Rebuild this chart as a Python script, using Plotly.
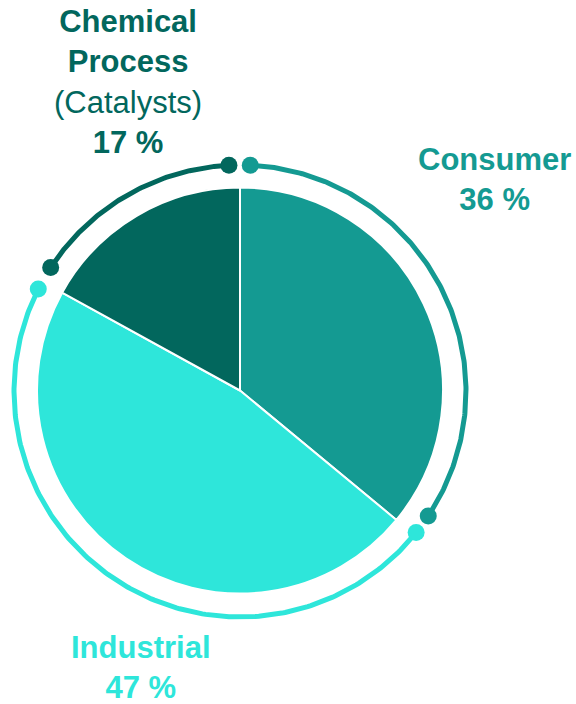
import numpy as np
import plotly.graph_objects as go

# Market share by application segment
segments = ["Consumer", "Industrial", "Chemical Process"]
shares = [36, 47, 17]
colors = ["#149a92", "#2ee6da", "#02675d"]
label_html = [
    "<b>Consumer<br>36 %</b>",
    "<b>Industrial<br>47 %</b>",
    "<b>Chemical<br>Process</b><br>(Catalysts)<br><b>17 %</b>",
]

W, H = 576, 704
CX, CY = 240, 390.5          # pie centre (pixels, y down)
PIE_R = 203
ARC_R = 226
ARC_CY = 391
# arc trimming (degrees) at start/end of each segment ring
ARC_PAD_START = [2.6, -0.8, 4.3]
ARC_PAD_END = [6.0, 2.0, 2.8]
LABEL_POS = [(494, 179), (141, 667), (128, 82)]

fig = go.Figure()

total = float(sum(shares))
bounds = np.concatenate([[0.0], np.cumsum(shares)]) / total * 360.0

for i, (name, col) in enumerate(zip(segments, colors)):
    a0 = bounds[i] + ARC_PAD_START[i]
    a1 = bounds[i + 1] - ARC_PAD_END[i]
    th = np.radians(np.linspace(a0, a1, 200))
    xs = CX + ARC_R * np.sin(th)
    ys = ARC_CY - ARC_R * np.cos(th)
    fig.add_trace(go.Scatter(x=xs, y=ys, mode="lines",
                             line=dict(color=col, width=5),
                             hoverinfo="skip", showlegend=False))
    fig.add_trace(go.Scatter(x=[xs[0], xs[-1]], y=[ys[0], ys[-1]], mode="markers",
                             marker=dict(color=col, size=17),
                             hoverinfo="skip", showlegend=False))

fig.add_trace(go.Pie(
    labels=segments, values=shares, sort=False, direction="clockwise",
    rotation=0, textinfo="none", hoverinfo="label+percent",
    marker=dict(colors=colors, line=dict(color="white", width=2)),
    showlegend=False,
    domain=dict(x=[(CX - PIE_R) / W, (CX + PIE_R) / W],
                y=[(H - CY - PIE_R) / H, (H - CY + PIE_R) / H]),
))

for (x, y), txt, col in zip(LABEL_POS, label_html, colors):
    fig.add_annotation(x=x, y=y, xref="x", yref="y", text=txt, showarrow=False,
                       xanchor="center", yanchor="middle", align="center",
                       font=dict(family="Liberation Sans, Arial, sans-serif",
                                 size=31, color=col))

fig.update_xaxes(range=[0, W], visible=False, fixedrange=True)
fig.update_yaxes(range=[H, 0], visible=False, fixedrange=True)
fig.update_layout(width=W, height=H, margin=dict(l=0, r=0, t=0, b=0),
                  paper_bgcolor="white", plot_bgcolor="white")

fig.write_html("out.html")
